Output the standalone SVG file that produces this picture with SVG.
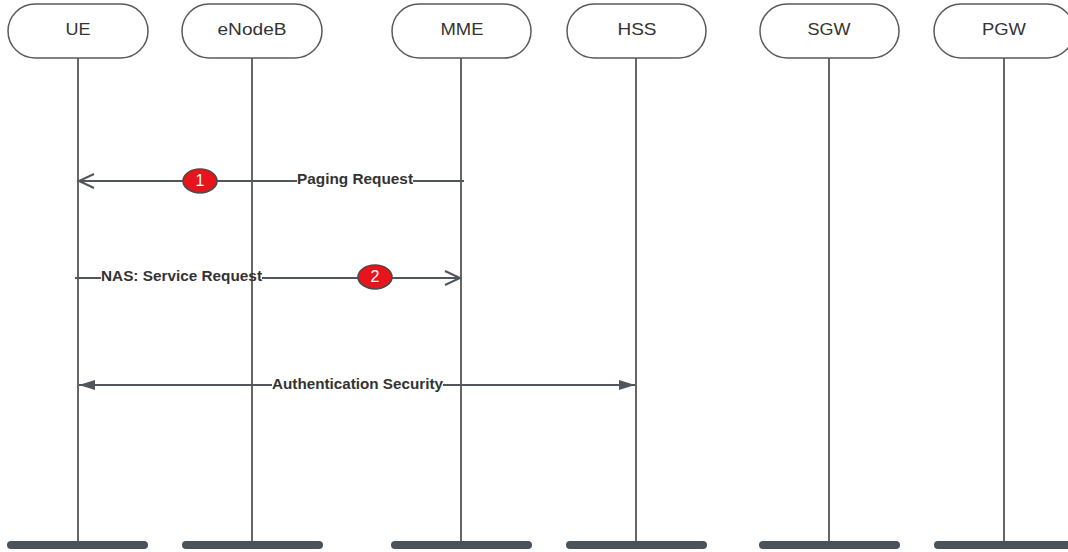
<svg xmlns="http://www.w3.org/2000/svg" width="1068" height="552" viewBox="0 0 1068 552">
  <style>
    .head { fill: #ffffff; stroke: #5a5a5a; stroke-width: 1.5; }
    .head-text { font-family: "Liberation Sans", Arial, sans-serif; font-size: 16.5px; fill: #333333; text-anchor: middle; }
    .life { stroke: #666666; stroke-width: 2; }
    .foot { fill: #4a525a; }
    .msg { stroke: #50565e; stroke-width: 2; fill: none; }
    .msg-label { font-family: "Liberation Sans", Arial, sans-serif; font-size: 14px; font-weight: bold; fill: #333333; }
    .badge { fill: #e8141b; stroke: #4a4a4a; stroke-width: 1.5; }
    .badge-text { font-family: "Liberation Sans", Arial, sans-serif; font-size: 16px; fill: #ffffff; text-anchor: middle; }
  </style>
  <defs>
    <marker id="open" markerWidth="20" markerHeight="20" refX="16" refY="8" orient="auto" markerUnits="userSpaceOnUse">
      <path d="M1,1 L16,8 L1,15" fill="none" stroke="#50565e" stroke-width="2"/>
    </marker>
    <marker id="solid" markerWidth="20" markerHeight="20" refX="16" refY="6" orient="auto-start-reverse" markerUnits="userSpaceOnUse">
      <path d="M0,1 L16,6 L0,11 Z" fill="#50565e"/>
    </marker>
  </defs>

  <rect width="1068" height="552" fill="#ffffff"/>

  <!-- lifelines -->
  <g id="lifelines">
    <line class="life" x1="78" y1="58" x2="78" y2="542"/>
    <line class="life" x1="252" y1="58" x2="252" y2="542"/>
    <line class="life" x1="461" y1="58" x2="461" y2="542"/>
    <line class="life" x1="636" y1="58" x2="636" y2="542"/>
    <line class="life" x1="829" y1="58" x2="829" y2="542"/>
    <line class="life" x1="1004" y1="58" x2="1004" y2="542"/>
  </g>

  <g id="ue">
    <rect class="head" x="8" y="4" width="140" height="54" rx="27"/>
    <text class="head-text" x="78" y="35" textLength="25" lengthAdjust="spacingAndGlyphs">UE</text>
    <rect class="foot" x="7" y="541" width="141" height="8" rx="4"/>
  </g>
  <g id="enodeb">
    <rect class="head" x="182" y="4" width="140" height="54" rx="27"/>
    <text class="head-text" x="252" y="35" textLength="69" lengthAdjust="spacingAndGlyphs">eNodeB</text>
    <rect class="foot" x="182" y="541" width="141" height="8" rx="4"/>
  </g>
  <g id="mme">
    <rect class="head" x="392" y="4" width="139" height="54" rx="27"/>
    <text class="head-text" x="462" y="35" textLength="43" lengthAdjust="spacingAndGlyphs">MME</text>
    <rect class="foot" x="391" y="541" width="141" height="8" rx="4"/>
  </g>
  <g id="hss">
    <rect class="head" x="567" y="4" width="139" height="54" rx="27"/>
    <text class="head-text" x="637" y="35" textLength="39" lengthAdjust="spacingAndGlyphs">HSS</text>
    <rect class="foot" x="566" y="541" width="141" height="8" rx="4"/>
  </g>
  <g id="sgw">
    <rect class="head" x="760" y="4" width="139" height="54" rx="27"/>
    <text class="head-text" x="829" y="35" textLength="43" lengthAdjust="spacingAndGlyphs">SGW</text>
    <rect class="foot" x="759" y="541" width="141" height="8" rx="4"/>
  </g>
  <g id="pgw">
    <rect class="head" x="934" y="4" width="140" height="54" rx="27"/>
    <text class="head-text" x="1004" y="35" textLength="44" lengthAdjust="spacingAndGlyphs">PGW</text>
    <rect class="foot" x="934" y="541" width="141" height="8" rx="4"/>
  </g>

  <!-- messages: each line is split around its label -->
  <g id="connectors">
    <line class="msg" x1="464" y1="181" x2="413" y2="181"/>
    <line class="msg" x1="297" y1="181" x2="79" y2="181" marker-end="url(#open)"/>
    <text class="msg-label" x="297" y="184" textLength="116" lengthAdjust="spacingAndGlyphs">Paging Request</text>

    <line class="msg" x1="75" y1="278" x2="101" y2="278"/>
    <line class="msg" x1="262" y1="278" x2="460" y2="278" marker-end="url(#open)"/>
    <text class="msg-label" x="101" y="281" textLength="161" lengthAdjust="spacingAndGlyphs">NAS: Service Request</text>

    <line class="msg" x1="272" y1="385" x2="79" y2="385" marker-end="url(#solid)"/>
    <line class="msg" x1="443" y1="385" x2="635" y2="385" marker-end="url(#solid)"/>
    <text class="msg-label" x="272" y="389" textLength="171" lengthAdjust="spacingAndGlyphs">Authentication Security</text>
  </g>

  <!-- step badges -->
  <g id="badge-1">
    <ellipse class="badge" cx="200" cy="181" rx="17" ry="12"/>
    <text class="badge-text" x="200" y="186">1</text>
  </g>
  <g id="badge-2">
    <ellipse class="badge" cx="375" cy="277" rx="17" ry="12"/>
    <text class="badge-text" x="375" y="282">2</text>
  </g>
</svg>
